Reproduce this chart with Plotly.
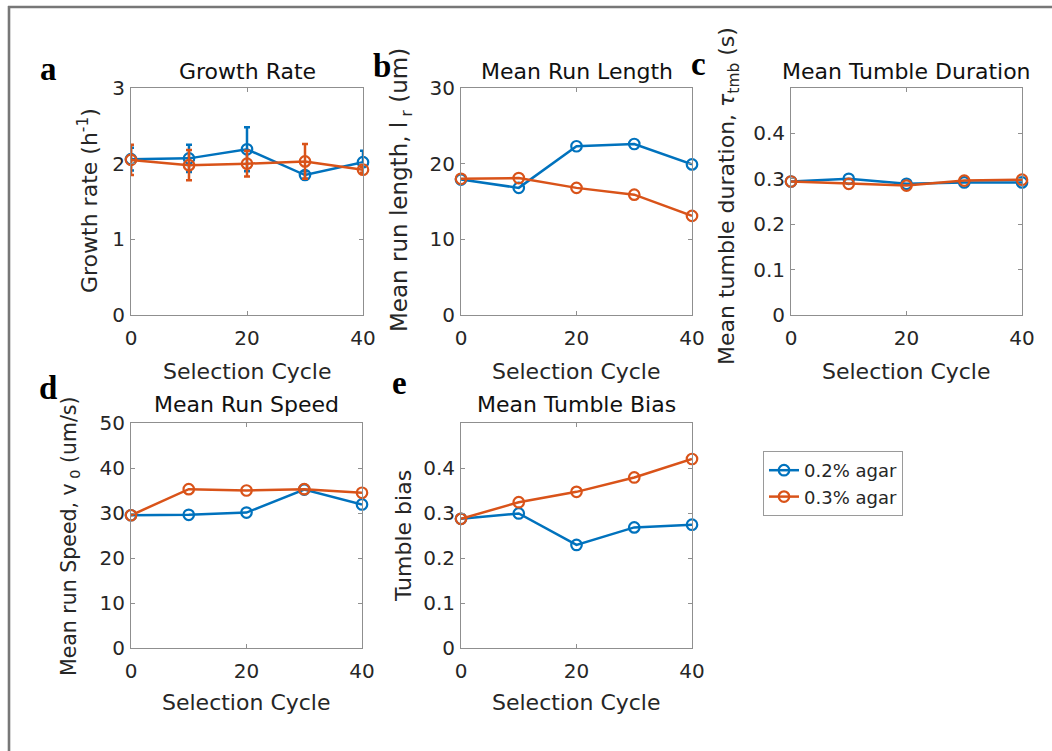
import plotly.graph_objects as go

W, H = 1052, 751

cycles = [0, 10, 20, 30, 40]
series_names = ["0.2% agar", "0.3% agar"]
colors = ["#0072BD", "#D95319"]

growth_02 = [2.06, 2.07, 2.19, 1.85, 2.02]
growth_02_err = [0.15, 0.18, 0.29, 0.05, 0.15]
growth_03 = [2.05, 1.98, 2.00, 2.03, 1.92]
growth_03_err = [0.20, 0.20, 0.17, 0.23, 0.04]

runlen_02 = [17.9, 16.8, 22.3, 22.6, 19.9]
runlen_03 = [18.0, 18.1, 16.8, 15.9, 13.1]

tumbdur_02 = [0.294, 0.300, 0.289, 0.292, 0.292]
tumbdur_03 = [0.294, 0.289, 0.285, 0.296, 0.298]

speed_02 = [29.5, 29.6, 30.1, 35.2, 31.9]
speed_03 = [29.5, 35.3, 35.0, 35.3, 34.5]

bias_02 = [0.287, 0.299, 0.229, 0.268, 0.274]
bias_03 = [0.287, 0.324, 0.347, 0.379, 0.420]

x_ticks = [0, 20, 40]


def PX(px):
    return px / W


def PY(py):
    return 1 - py / H


# panel geometry in target pixels: (left, right, top, bottom)
panels = {
    "a": dict(px=(131, 363, 88, 315), yrange=[0, 3], yticks=[0, 1, 2, 3],
              title="Growth Rate", ylabel="Growth rate (h<sup>-1</sup>)", ylab=(88, 201), ylab_size=22,
              letter=(48.5, 69), title_y=72, xlab_y=371),
    "b": dict(px=(461, 692, 88, 315), yrange=[0, 30], yticks=[0, 10, 20, 30],
              title="Mean Run Length", ylabel="Mean run length, l<sub> r</sub> (um)", ylab=(401, 190),
              ylab_size=23, letter=(381.5, 66), title_y=72, xlab_y=371),
    "c": dict(px=(791, 1022, 88, 315), yrange=[0, 0.5], yticks=[0, 0.1, 0.2, 0.3, 0.4],
              title="Mean Tumble Duration", ylabel="Mean tumble duration, <i>τ</i><sub>tmb</sub> (s)",
              ylab=(728, 196), ylab_size=22, letter=(698.5, 64), title_y=72, xlab_y=371),
    "d": dict(px=(131, 362, 423, 648), yrange=[0, 50], yticks=[0, 10, 20, 30, 40, 50],
              title="Mean Run Speed", ylabel="Mean run Speed, v<sub> 0</sub> (um/s)", ylab=(70, 537),
              ylab_size=20.5, letter=(47.5, 388), title_y=404, xlab_y=702),
    "e": dict(px=(461, 692, 423, 648), yrange=[0, 0.5], yticks=[0, 0.1, 0.2, 0.3, 0.4],
              title="Mean Tumble Bias", ylabel="Tumble bias", ylab=(403, 536), ylab_size=22,
              letter=(399.5, 383), title_y=404, xlab_y=702),
}

data = {
    "a": ((growth_02, growth_02_err), (growth_03, growth_03_err)),
    "b": ((runlen_02, None), (runlen_03, None)),
    "c": ((tumbdur_02, None), (tumbdur_03, None)),
    "d": ((speed_02, None), (speed_03, None)),
    "e": ((bias_02, None), (bias_03, None)),
}

FONT = "DejaVu Sans, Arial, sans-serif"
TXT = "#262626"
AXC = "#8f8f8f"

fig = go.Figure()
annotations = []
layout_axes = {}

for i, key in enumerate(["a", "b", "c", "d", "e"]):
    p = panels[key]
    l, r, t, b = p["px"]
    idx = "" if i == 0 else str(i + 1)
    xa, ya = "x" + idx, "y" + idx
    for (vals, err), name, col in zip(data[key], series_names, colors):
        kw = {}
        if err is not None:
            kw["error_y"] = dict(type="data", array=err, visible=True, color=col,
                                 thickness=2.5, width=3)
        fig.add_trace(go.Scatter(
            x=cycles, y=vals, mode="lines+markers", name=name,
            line=dict(color=col, width=2.5),
            marker=dict(symbol="circle-open", size=10.5, color=col, line=dict(width=2.2, color=col)),
            xaxis=xa, yaxis=ya, cliponaxis=False, showlegend=(key == "a"),
            **kw))
    common = dict(showline=True, linecolor=AXC, linewidth=1, mirror="ticks",
                  ticks="inside", ticklen=4, tickcolor=AXC, showgrid=False, zeroline=False,
                  tickfont=dict(family=FONT, size=20, color=TXT))
    layout_axes["xaxis" + idx] = dict(common, domain=[PX(l), PX(r)], range=[0, 40],
                                      tickvals=x_ticks, anchor=ya, ticklabelstandoff=5)
    layout_axes["yaxis" + idx] = dict(common, domain=[PY(b), PY(t)], range=p["yrange"],
                                      tickvals=p["yticks"], anchor=xa, ticklabelstandoff=1)
    cx = (l + r) / 2
    annotations.append(dict(text=p["title"], x=PX(cx), y=PY(p["title_y"]), xref="paper", yref="paper",
                            showarrow=False, font=dict(family=FONT, size=22, color="#111111"),
                            xanchor="center", yanchor="middle"))
    annotations.append(dict(text="Selection Cycle", x=PX(cx), y=PY(p["xlab_y"]), xref="paper", yref="paper",
                            showarrow=False, font=dict(family=FONT, size=22, color=TXT),
                            xanchor="center", yanchor="middle"))
    annotations.append(dict(text=p["ylabel"], x=PX(p["ylab"][0]), y=PY(p["ylab"][1]), xref="paper",
                            yref="paper", showarrow=False, textangle=-90,
                            font=dict(family=FONT, size=p["ylab_size"], color=TXT),
                            xanchor="center", yanchor="middle"))
    lx, ly = p["letter"]
    annotations.append(dict(text="<b>" + key + "</b>", x=PX(lx), y=PY(ly), xref="paper", yref="paper",
                            showarrow=False, font=dict(family="Liberation Serif, Times New Roman, serif",
                                                       size=33, color="#000000"),
                            xanchor="center", yanchor="middle"))

shapes = [
    dict(type="line", xref="paper", yref="paper", x0=PX(8), x1=1, y0=PY(7), y1=PY(7),
         line=dict(color="#777777", width=2.6)),
    dict(type="line", xref="paper", yref="paper", x0=PX(9), x1=PX(9), y0=0, y1=PY(6),
         line=dict(color="#777777", width=2.6)),
]

fig.update_layout(
    autosize=True, margin=dict(l=0, r=0, t=0, b=0, autoexpand=False),
    paper_bgcolor="white", plot_bgcolor="white",
    annotations=annotations, shapes=shapes,
    legend=dict(x=PX(763), y=PY(451), xanchor="left", yanchor="top",
                bordercolor="#9a9a9a", borderwidth=1, bgcolor="white",
                font=dict(family=FONT, size=18, color=TXT), tracegroupgap=0,
                itemwidth=30),
    **layout_axes,
)

post = ("document.documentElement.style.margin='0';document.body.style.margin='0';"
        "document.body.style.padding='0';document.body.style.overflow='hidden';"
        "document.documentElement.style.overflow='hidden';"
        "var gd=document.getElementById('{plot_id}');gd.style.width='100vw';gd.style.height='100vh';"
        "Plotly.Plots.resize(gd);")
fig.write_html("out.html", post_script=post, config={"displayModeBar": False, "responsive": True},
               default_width="100vw", default_height="100vh")
